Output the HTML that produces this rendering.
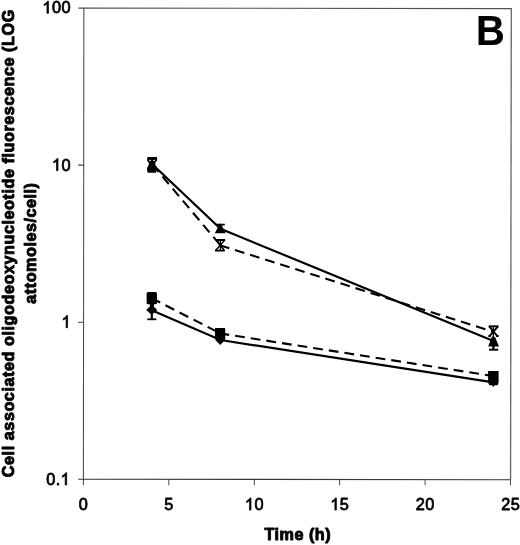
<!DOCTYPE html>
<html><head><meta charset="utf-8">
<style>
html,body{margin:0;padding:0;background:#fff;}
body{width:520px;height:545px;overflow:hidden;position:relative;font-family:"Liberation Sans",sans-serif;}
svg{position:absolute;left:0;top:0;will-change:transform;}
text{font-family:"Liberation Sans",sans-serif;fill:#000;}
</style></head>
<body>
<svg width="520" height="545" viewBox="0 0 520 545">
<rect x="0" y="0" width="520" height="545" fill="#fff"/>
<!-- plot frame -->
<g fill="none" stroke-linecap="butt">
<path d="M83.4 8.05 L511.9 8.6" stroke="#505050" stroke-width="1.2"/>
<path d="M511.3 8.1 L510.55 479.7" stroke="#6a6a6a" stroke-width="1.35"/>
<path d="M83.85 8.1 L83.4 485" stroke="#484848" stroke-width="1.05"/>
<path d="M78.2 479.15 L510.5 479.75" stroke="#383838" stroke-width="1.05"/>
<!-- y ticks -->
<path d="M78.4 8.1H84 M78.1 165.1H83.8 M77.9 322.3H83.7" stroke="#444" stroke-width="1.05"/>
<!-- x ticks -->
<path d="M168.8 479.2V485.2 M254.3 479.3V485.2 M339.6 479.4V485.2 M425.1 479.5V485.2 M510.5 479.7V485.2" stroke="#4a4a4a" stroke-width="1"/>
</g>
<!-- tick labels -->
<g font-size="17.2px" fill="#000" stroke="#000" stroke-width="0.8" stroke-linejoin="round">
<path transform="translate(42.34 13.3) scale(0.007979 -0.008272)" d="M763 0H583V1147Q518 1085 412.5 1023T223 930V1104Q373 1174.5 485.5 1275T644 1470H763Z" stroke-width="95.3"/>
<text transform="translate(51.91 13.3) scale(0.95 0.985)">0</text>
<text transform="translate(61.47 13.3) scale(0.95 0.985)">0</text>
<path transform="translate(51.91 170.6) scale(0.007979 -0.008272)" d="M763 0H583V1147Q518 1085 412.5 1023T223 930V1104Q373 1174.5 485.5 1275T644 1470H763Z" stroke-width="95.3"/>
<text transform="translate(61.47 170.6) scale(0.95 0.985)">0</text>
<path transform="translate(61.47 327.7) scale(0.007979 -0.008272)" d="M763 0H583V1147Q518 1085 412.5 1023T223 930V1104Q373 1174.5 485.5 1275T644 1470H763Z" stroke-width="95.3"/>
<text transform="translate(46.23 484.9) scale(0.95 0.985)">0</text>
<text transform="translate(55.67 484.9) scale(0.95 0.985)">.</text>
<path transform="translate(60.57 484.9) scale(0.007979 -0.008272)" d="M763 0H583V1147Q518 1085 412.5 1023T223 930V1104Q373 1174.5 485.5 1275T644 1470H763Z" stroke-width="95.3"/>
<text transform="translate(78.86 510.1) scale(0.95 0.985)">0</text>
<text transform="translate(164.26 510.1) scale(0.95 0.985)">5</text>
<path transform="translate(244.87 510.1) scale(0.007979 -0.008272)" d="M763 0H583V1147Q518 1085 412.5 1023T223 930V1104Q373 1174.5 485.5 1275T644 1470H763Z" stroke-width="95.3"/>
<text transform="translate(254.44 510.1) scale(0.95 0.985)">0</text>
<path transform="translate(330.27 510.1) scale(0.007979 -0.008272)" d="M763 0H583V1147Q518 1085 412.5 1023T223 930V1104Q373 1174.5 485.5 1275T644 1470H763Z" stroke-width="95.3"/>
<text transform="translate(339.84 510.1) scale(0.95 0.985)">5</text>
<text transform="translate(415.77 510.1) scale(0.95 0.985)">2</text>
<text transform="translate(425.34 510.1) scale(0.95 0.985)">0</text>
<text transform="translate(501.17 510.1) scale(0.95 0.985)">2</text>
<text transform="translate(510.74 510.1) scale(0.95 0.985)">5</text>
</g>
<text transform="translate(297.8 539.7) scale(1 1.06)" font-size="16.2px" font-weight="bold" text-anchor="middle" stroke="#000" stroke-width="0.9" stroke-linejoin="round" letter-spacing="0.5">Time (h)</text>
<text transform="translate(490.5 45.1) scale(0.923 1)" font-size="43.2px" font-weight="bold" text-anchor="middle" stroke="#000" stroke-width="0.2">B</text>
<g font-size="16.2px" font-weight="bold" text-anchor="middle" stroke="#000" stroke-width="0.9" stroke-linejoin="round">
<text transform="translate(14.0 243.2) rotate(-90) scale(1 1.06)" letter-spacing="0.55">Cell associated oligodeoxynucleotide fluorescence (LOG</text>
<text transform="translate(36.3 243.1) rotate(-90) scale(1 1.06)" letter-spacing="0.52">attomoles/cell)</text>
</g>
<!-- series lines -->
<g fill="none" stroke="#000" stroke-width="2.2">
<polyline points="152.3,164.3 220.5,228.8 493.5,341"/>
<polyline points="152.3,310.4 220.5,340 493.5,382.4"/>
</g>
<g fill="none" stroke="#000" stroke-width="2.1" stroke-dasharray="9.8 6">
<path d="M152.3 164.4 L220.5 245.4"/>
<path d="M220.5 245.4 L493.5 331.8" stroke-dashoffset="0.6"/>
<path d="M152.3 298.5 L220.5 333.5" stroke-dashoffset="1"/>
<path d="M220.5 333.5 L493.5 376.1" stroke-dashoffset="1"/>
</g>
<!-- 4h top blob: X + triangle + error caps -->
<path d="M147.4 157 H156.9 L157.3 160.3 L155.5 162.3 L155.3 164.8 L156.9 167.2 L156.4 169.8 L156.2 172.7 H147.9 L147.2 171.3 L147 167.9 L148.5 165.3 L149 163 L147 160.5Z" fill="#000"/>
<ellipse cx="149.95" cy="160.45" rx="0.95" ry="0.6" fill="#eee"/>
<ellipse cx="154.1" cy="160.45" rx="0.95" ry="0.6" fill="#eee"/>
<!-- 8h triangle with top error bar -->
<path d="M219.3 224.8 H221.5 L225.6 233.3 H214.8Z" fill="#000"/>
<path d="M217 224.6H224.8 M220.3 223.4V226" fill="none" stroke="#000" stroke-width="1.7"/>
<!-- 8h X marker -->
<g fill="none" stroke="#000" stroke-width="1.7">
<path d="M215.8 240H225.2 M215 250.6H224.8" stroke-width="1.9"/>
<path d="M220.4 240V250.5" stroke-width="1.2"/>
<path d="M216.4 240 L224.3 250.5 M224.7 240 L215.7 250.5" stroke-width="1.6"/>
</g>
<!-- 24h X marker + triangle -->
<g fill="none" stroke="#000" stroke-width="1.9">
<path d="M488.7 326.3H498.5"/>
<path d="M493.3 326.3V337" stroke-width="1.3"/>
<path d="M489.2 326.3 L497.8 336.6 M498 326.3 L489 336.6" stroke-width="2"/>
<path d="M488.4 336H490.6 M496.2 336H498.6" stroke-width="1.8"/>
<path d="M489 349.7H498.2"/>
<path d="M493.4 346V349.7" stroke-width="2.3"/>
</g>
<path d="M491.5 337.6 L492.6 336.4 H494.2 L495.3 337.6 L499 346.4 H488.2Z" fill="#000"/>
<!-- squares -->
<g fill="#000">
<rect x="146.6" y="291.9" width="10.4" height="12.3" rx="1.5"/>
<rect x="215" y="328" width="10.2" height="11"/>
<path d="M488.1 371.1 H498.6 V382.5 L497.6 385.2 H494.6 L493.3 386.9 L492 385.2 H489.3 L488.1 382.5Z"/>
<!-- diamonds -->
<path d="M151.7 305 L156.9 309.9 L151.7 314.7 L146.5 309.9Z" stroke="#000" stroke-width="0.6" stroke-linejoin="round"/><rect x="149.9" y="303.5" width="4.1" height="3.6"/>
<path d="M220.2 334.6 L225.3 339.8 L220.2 345 L215.1 339.8Z"/>
</g>
<!-- diamond 4h lower error bar -->
<path d="M151.8 314V319.3" fill="none" stroke="#000" stroke-width="2.1"/><path d="M147.3 319.3H156.3" fill="none" stroke="#000" stroke-width="1.8"/>
</svg>
</body></html>
